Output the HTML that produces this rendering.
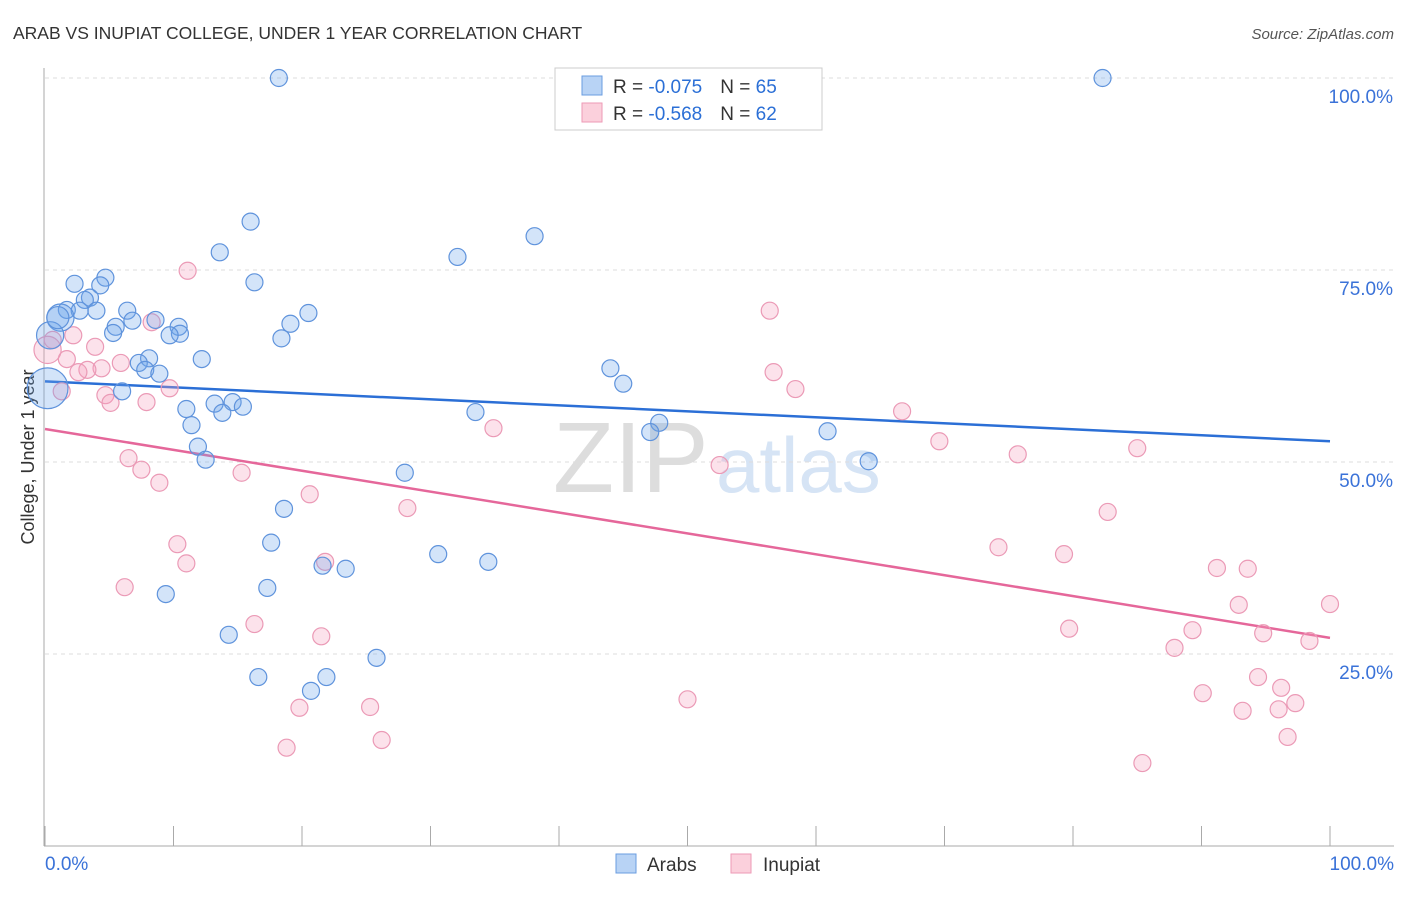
<!DOCTYPE html>
<html><head><meta charset="utf-8"><style>
body{margin:0;background:#fff;font-family:"Liberation Sans",sans-serif;}
svg text{font-family:"Liberation Sans",sans-serif;}
</style></head><body>
<svg id="chart" width="1406" height="892" viewBox="0 0 1406 892">
<text x="13" y="39" font-size="17.5" fill="#333">ARAB VS INUPIAT COLLEGE, UNDER 1 YEAR CORRELATION CHART</text>
<text x="1394" y="39" font-size="15" fill="#555" font-style="italic" text-anchor="end">Source: ZipAtlas.com</text>
<g>
<text x="553" y="492" font-size="100" fill="#ddd" font-family="Liberation Serif, serif">ZIP</text>
<text x="716" y="492" font-size="78" fill="#d6e4f5">atlas</text>
</g>
<g id="grid"></g>
<g id="axes"></g>
<text transform="translate(34,457) rotate(-90)" font-size="18" fill="#333" text-anchor="middle">College, Under 1 year</text>
<line x1="44" y1="381" x2="1330" y2="441" id="blueTrend" stroke="#2b6fd6" stroke-width="2.5"/>
<line id="pinkTrend" stroke="#e5679a" stroke-width="2.5"/>
<g id="pts"></g>
<g>
<rect x="555" y="68" width="267" height="62" fill="#fff" stroke="#ccc"/>
<rect x="582" y="76" width="20" height="19" fill="#b8d3f5" stroke="#6a9de0"/>
<rect x="582" y="103" width="20" height="19" fill="#fbd0dc" stroke="#ee9ab6"/>
<text x="613" y="93" font-size="19" fill="#333">R = <tspan fill="#2b6fd6">-0.075</tspan><tspan dx="18">N = </tspan><tspan fill="#2b6fd6">65</tspan></text>
<text x="613" y="120" font-size="19" fill="#333">R = <tspan fill="#2b6fd6">-0.568</tspan><tspan dx="18">N = </tspan><tspan fill="#2b6fd6">62</tspan></text>
</g>
<g>
<rect x="616" y="854" width="20" height="19" fill="#b8d3f5" stroke="#6a9de0"/>
<text x="647" y="871" font-size="19" fill="#333">Arabs</text>
<rect x="731" y="854" width="20" height="19" fill="#fbd0dc" stroke="#ee9ab6"/>
<text x="763" y="871" font-size="19" fill="#333">Inupiat</text>
</g>
</svg>
<script>
const yTicks=[100,75,50,25];
const yTickLabels=["100.0%","75.0%","50.0%","25.0%"];
const arabX=[18.2,82.3,16.0,38.1,13.6,32.1,16.3,2.3,4.7,4.3,3.5,3.1,1.7,2.7,4.0,6.4,1.2,6.8,8.6,5.5,5.3,10.4,10.5,9.7,20.5,19.1,18.4,0.4,8.1,7.3,12.2,7.8,8.9,44.0,45.0,6.0,0.2,33.5,11.0,13.2,14.6,15.4,13.8,11.4,47.8,47.1,60.9,11.9,12.5,64.1,28.0,18.6,17.6,30.6,34.5,21.6,23.4,17.3,9.4,14.3,25.8,16.6,21.9,20.7,1.0];
const arabY=[100,100,81.3,79.4,77.3,76.7,73.4,73.2,74.0,73.0,71.4,71.1,69.8,69.7,69.7,69.7,68.8,68.4,68.5,67.6,66.8,67.6,66.7,66.5,69.4,68.0,66.1,66.5,63.5,62.9,63.4,62.0,61.5,62.2,60.2,59.2,59.6,56.5,56.9,57.6,57.8,57.2,56.4,54.8,55.1,53.9,54.0,52.0,50.3,50.1,48.6,43.9,39.5,38.0,37.0,36.5,36.1,33.6,32.8,27.5,24.5,22.0,22.0,20.2,68.8];
const arabSize=[1,1,1,1,1,1,1,1,1,1,1,1,1,1,1,1,1.6,1,1,1,1,1,1,1,1,1,1,1.6,1,1,1,1,1,1,1,1,2.4,1,1,1,1,1,1,1,1,1,1,1,1,1,1,1,1,1,1,1,1,1,1,1,1,1,1,1,1.3];
const inuX=[11.1,56.4,8.3,2.2,0.6,0.2,3.9,1.7,5.9,4.4,3.3,2.6,56.7,58.4,9.7,1.3,4.7,5.1,7.9,66.7,34.9,69.6,85.0,75.7,52.5,6.5,7.5,15.3,8.9,20.6,28.2,82.7,74.2,10.3,79.3,11.0,21.8,91.2,93.6,6.2,100,92.9,16.3,79.7,89.3,21.5,94.8,98.4,87.9,50.0,90.1,94.4,96.2,19.8,25.3,97.3,93.2,96.0,96.7,18.8,26.2,85.4];
const inuY=[74.9,69.7,68.2,66.5,65.9,64.6,65.0,63.4,62.9,62.2,62.0,61.7,61.7,59.5,59.6,59.2,58.7,57.7,57.8,56.6,54.4,52.7,51.8,51.0,49.6,50.5,49.0,48.6,47.3,45.8,44.0,43.5,38.9,39.3,38.0,36.8,37.0,36.2,36.1,33.7,31.5,31.4,28.9,28.3,28.1,27.3,27.7,26.7,25.8,19.1,19.9,22.0,20.6,18.0,18.1,18.6,17.6,17.8,14.2,12.8,13.8,10.8];
const inuSize=[1,1,1,1,1,1.6,1,1,1,1,1,1,1,1,1,1,1,1,1,1,1,1,1,1,1,1,1,1,1,1,1,1,1,1,1,1,1,1,1,1,1,1,1,1,1,1,1,1,1,1,1,1,1,1,1,1,1,1,1,1,1,1];
const blueTrend=[60.5,52.7];
const pinkTrend=[54.3,27.1];
const NS="http://www.w3.org/2000/svg";
const sx=v=>45+v*12.85, sy=v=>846-v*7.68;
function mk(tag,at,parent){const e=document.createElementNS(NS,tag);for(const k in at)e.setAttribute(k,at[k]);parent.appendChild(e);return e;}
const grid=document.getElementById('grid'), axes=document.getElementById('axes'), pts=document.getElementById('pts');
yTicks.forEach((t,i)=>{
 const g=mk('line',{x1:45,x2:1394,y1:sy(t),y2:sy(t),stroke:'#ddd','stroke-dasharray':'4,4'},grid);
 
 
 const tx=mk('text',{x:1393,y:sy(t)+25,'font-size':19,fill:'#3a72d8','text-anchor':'end'},grid);
 tx.textContent=yTickLabels[i];
 
 
});
const ya=mk('line',{x1:44,x2:44,y1:68,y2:846,stroke:'#aaa'},axes);


const xa=mk('line',{x1:44,x2:1394,y1:846,y2:846,stroke:'#aaa'},axes);


for(let k=0;k<=10;k++){const t=mk('line',{x1:sx(k*10),x2:sx(k*10),y1:826,y2:846,stroke:'#aaa'},axes);
 
 }
const x0=mk('text',{x:45,y:870,'font-size':19,fill:'#3a72d8'},axes);x0.textContent='0.0%';


const x1=mk('text',{x:1394,y:870,'font-size':19,fill:'#3a72d8','text-anchor':'end'},axes);x1.textContent='100.0%';


const bt=document.getElementById('blueTrend');
bt.setAttribute('x1',sx(0));bt.setAttribute('y1',sy(blueTrend[0]));bt.setAttribute('x2',sx(100));bt.setAttribute('y2',sy(blueTrend[1]));
const pt=document.getElementById('pinkTrend');
pt.setAttribute('x1',sx(0));pt.setAttribute('y1',sy(pinkTrend[0]));pt.setAttribute('x2',sx(100));pt.setAttribute('y2',sy(pinkTrend[1]));
inuX.forEach((x,i)=>{const c=mk('circle',{cx:sx(x),cy:sy(inuY[i]),r:8.5*inuSize[i],fill:'rgba(245,160,190,0.3)',stroke:'#eb9ab6','stroke-width':1.2},pts);
 
 });
arabX.forEach((x,i)=>{const c=mk('circle',{cx:sx(x),cy:sy(arabY[i]),r:8.5*arabSize[i],fill:'rgba(110,165,235,0.3)',stroke:'#5f93dc','stroke-width':1.2},pts);
 
 });
</script>
</body></html>
